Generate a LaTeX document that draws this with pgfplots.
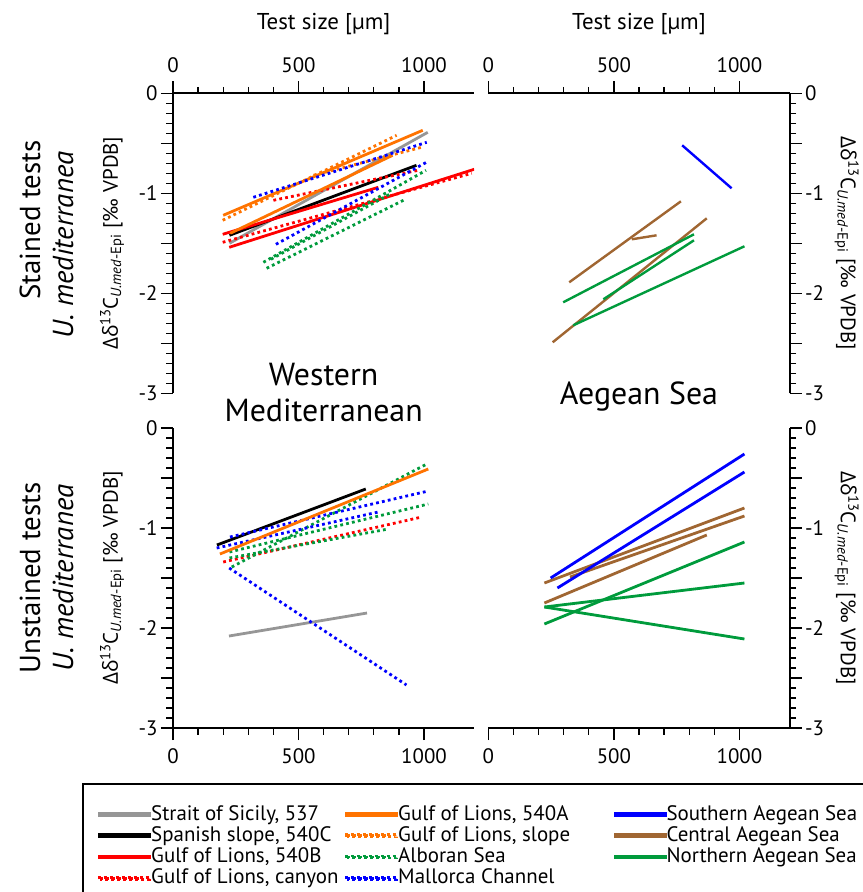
\documentclass[border=0pt]{standalone}
\usepackage{fontspec}
\setmainfont{PT Sans}
\newfontfamily\greekfont{Open Sans}
\usepackage{pgfplots}
\pgfplotsset{compat=1.18}

\definecolor{cgray}{RGB}{150,150,150}
\definecolor{corange}{RGB}{255,115,0}
\definecolor{cred}{RGB}{255,0,0}
\definecolor{cgreen}{RGB}{0,155,60}
\definecolor{cblue}{RGB}{0,0,255}
\definecolor{cbrown}{RGB}{160,102,50}

\tikzset{
  sol/.style={line width=2.8bp, line cap=butt},
  dot/.style={line width=2.8bp, line cap=butt, dash pattern=on 2.8bp off 3.2bp},
}
\newcommand{\ylab}{{\greekfont Δδ}\textsuperscript{13}C\textsubscript{\textit{U.med}-Epi} [‰ VPDB]}

\pgfplotsset{
  panel/.style={
    scale only axis, width=301.2bp, height=300bp,
    xmin=0, xmax=1200, ymin=-3, ymax=0,
    xtick={0,500,1000}, xticklabels={0,500,1000}, minor x tick num=4,
    ytick={-3,-2.5,-2,-1.5,-1,-0.5,0}, yticklabels={-3,,-2,,-1,,0}, minor y tick num=4,
    tick align=outside,
    major tick length=12bp, minor tick length=6.5bp,
    every tick/.style={black, line width=1.3bp},
    axis line style={line width=1.8bp},
    tick label style={font=\fontsize{21}{23}\selectfont},
    xticklabel style={inner ysep=8bp},
    /pgf/number format/assume math mode=true,
    every axis x label/.style={at={(axis description cs:0.5,1.2143)}, anchor=base, font=\fontsize{23}{25}\selectfont},
    clip=true,
  },
  ylleft/.style={every axis y label/.style={at={(axis description cs:-0.2025,0.5)}, rotate=90, anchor=center, font=\fontsize{21}{23}\selectfont}},
  ylright/.style={every axis y label/.style={at={(axis description cs:1.19,0.5)}, rotate=-90, anchor=center, font=\fontsize{21}{23}\selectfont}},
}

\begin{document}
\begin{tikzpicture}
\useasboundingbox (0bp,0bp) rectangle (863bp,-892bp);

% ---------------- Top-left: stained, Western Mediterranean
\begin{axis}[panel, ylleft, at={(173bp,-393.3bp)}, anchor=south west,
  axis x line*=top, axis y line*=left,
  xlabel={Test size [µm]}, ylabel={\ylab}]
\addplot[cgray, sol] coordinates {(225,-1.50) (1015,-0.39)};
\addplot[black, sol] coordinates {(225,-1.42) (970,-0.72)};
\addplot[cred, sol] coordinates {(198,-1.41) (818,-0.94)};
\addplot[cred, sol] coordinates {(224,-1.54) (1200,-0.76)};
\addplot[cred, dot] coordinates {(400,-1.07) (977,-0.77)};
\addplot[cred, dot] coordinates {(198,-1.49) (1190,-0.80)};
\addplot[corange, sol] coordinates {(200,-1.22) (995,-0.37)};
\addplot[corange, sol] coordinates {(228,-1.40) (875,-0.62)};
\addplot[corange, dot] coordinates {(198,-1.27) (891,-0.42)};
\addplot[corange, dot] coordinates {(560,-0.82) (990,-0.54)};
\addplot[cblue, dot] coordinates {(320,-1.04) (1011,-0.49)};
\addplot[cblue, dot] coordinates {(410,-1.51) (1017,-0.68)};
\addplot[cgreen, dot] coordinates {(360,-1.69) (1008,-0.77)};
\addplot[cgreen, dot] coordinates {(373,-1.75) (918,-1.07)};
\addplot[cgreen, dot] coordinates {(390,-1.66) (870,-1.00)};
\end{axis}

% ---------------- Top-right: stained, Aegean
\begin{axis}[panel, ylright, at={(488.4bp,-393.3bp)}, anchor=south west,
  axis x line*=top, axis y line*=right,
  xlabel={Test size [µm]}, ylabel={\ylab}]
\addplot[cblue, line width=2.4bp] coordinates {(772,-0.52) (969,-0.95)};
\addplot[cbrown, line width=2.4bp] coordinates {(322,-1.89) (767,-1.08)};
\addplot[cbrown, line width=2.4bp] coordinates {(571,-1.46) (670,-1.42)};
\addplot[cbrown, line width=2.4bp] coordinates {(256,-2.49) (870,-1.25)};
\addplot[cgreen, line width=2.4bp] coordinates {(298,-2.09) (819,-1.41)};
\addplot[cgreen, line width=2.4bp] coordinates {(458,-2.06) (819,-1.47)};
\addplot[cgreen, line width=2.4bp] coordinates {(338,-2.32) (1020,-1.53)};
\end{axis}

% ---------------- Bottom-left: unstained, Western Mediterranean
\begin{axis}[panel, ylleft, at={(173bp,-728bp)}, anchor=south west,
  axis x line*=bottom, axis y line*=left, ylabel={\ylab},
  legend columns=3,
  legend image code/.code={\draw[#1] (0bp,0bp) -- (43bp,0bp); \path (0bp,-1bp) rectangle (50bp,1bp);},
  legend style={at={(axis description cs:-0.3005,-0.1833)}, anchor=north west,
    draw=black, line width=1.5bp, fill=white,
    inner xsep=15.2bp, inner ysep=20bp, column sep=0pt, row sep=0pt,
    font=\fontsize{21}{23}\selectfont,
    nodes={inner sep=0pt, text height=16.3bp, text depth=5bp}},
  legend cell align=left,
  ]
\addplot[cgray, sol, forget plot] coordinates {(223,-2.08) (773,-1.85)};
\addplot[black, sol, forget plot] coordinates {(175,-1.17) (768,-0.61)};
\addplot[cred, dot, forget plot] coordinates {(200,-1.34) (991,-0.89)};
\addplot[cgreen, dot, forget plot] coordinates {(234,-1.39) (1011,-0.36)};
\addplot[cgreen, dot, forget plot] coordinates {(225,-1.24) (1017,-0.76)};
\addplot[cgreen, dot, forget plot] coordinates {(225,-1.30) (858,-1.01)};
\addplot[cblue, dot, forget plot] coordinates {(227,-1.09) (1017,-0.63)};
\addplot[cblue, dot, forget plot] coordinates {(174,-1.20) (818,-0.84)};
\addplot[cblue, dot, forget plot] coordinates {(224,-1.40) (930,-2.57)};
\addplot[corange, sol, forget plot] coordinates {(187,-1.26) (1017,-0.41)};
\addlegendimage{cgray, sol}\addlegendentry{\makebox[194.2bp][l]{Strait of Sicily, 537}}
\addlegendimage{corange, sol}\addlegendentry{\makebox[215.5bp][l]{Gulf of Lions, 540A}}
\addlegendimage{cblue, sol}\addlegendentry{\makebox[188.5bp][l]{Southern Aegean Sea}}
\addlegendimage{black, sol}\addlegendentry{\makebox[194.2bp][l]{Spanish slope, 540C}}
\addlegendimage{corange, dot}\addlegendentry{\makebox[215.5bp][l]{Gulf of Lions, slope}}
\addlegendimage{cbrown, sol}\addlegendentry{\makebox[188.5bp][l]{Central Aegean Sea}}
\addlegendimage{cred, sol}\addlegendentry{\makebox[194.2bp][l]{Gulf of Lions, 540B}}
\addlegendimage{cgreen, dot}\addlegendentry{\makebox[215.5bp][l]{Alboran Sea}}
\addlegendimage{cgreen, sol}\addlegendentry{\makebox[188.5bp][l]{Northern Aegean Sea}}
\addlegendimage{cred, dot}\addlegendentry{\makebox[194.2bp][l]{Gulf of Lions, canyon}}
\addlegendimage{cblue, dot}\addlegendentry{\makebox[215.5bp][l]{Mallorca Channel}}
\end{axis}

% ---------------- Bottom-right: unstained, Aegean
\begin{axis}[panel, ylright, at={(488.4bp,-728bp)}, anchor=south west,
  axis x line*=bottom, axis y line*=right, ylabel={\ylab}]
\addplot[cbrown, sol] coordinates {(223,-1.55) (1020,-0.80)};
\addplot[cbrown, sol] coordinates {(325,-1.49) (1020,-0.88)};
\addplot[cbrown, sol] coordinates {(223,-1.75) (870,-1.07)};
\addplot[cgreen, sol] coordinates {(223,-1.96) (1020,-1.14)};
\addplot[cgreen, sol] coordinates {(223,-1.79) (1020,-1.55)};
\addplot[cgreen, sol] coordinates {(223,-1.79) (1020,-2.11)};
\addplot[cblue, sol] coordinates {(248,-1.50) (1020,-0.26)};
\addplot[cblue, sol] coordinates {(275,-1.60) (1020,-0.44)};
\end{axis}

% ---------------- Panel titles and row labels
\node[anchor=base, font=\fontsize{32}{34}\selectfont] at (323.6bp,-385bp) {Western};
\node[anchor=base, font=\fontsize{32}{34}\selectfont] at (323.6bp,-421.7bp) {Mediterranean};
\node[anchor=base, font=\fontsize{32}{34}\selectfont] at (639bp,-404bp) {Aegean Sea};
\node[rotate=90, font=\fontsize{29}{31}\selectfont] at (30bp,-220bp) {Stained tests};
\node[rotate=90, font=\fontsize{29}{31}\selectfont\itshape] at (63bp,-245bp) {U. mediterranea};
\node[rotate=90, font=\fontsize{29}{31}\selectfont] at (30bp,-578bp) {Unstained tests};
\node[rotate=90, font=\fontsize{29}{31}\selectfont\itshape] at (63bp,-578bp) {U. mediterranea};
\end{tikzpicture}
\end{document}
